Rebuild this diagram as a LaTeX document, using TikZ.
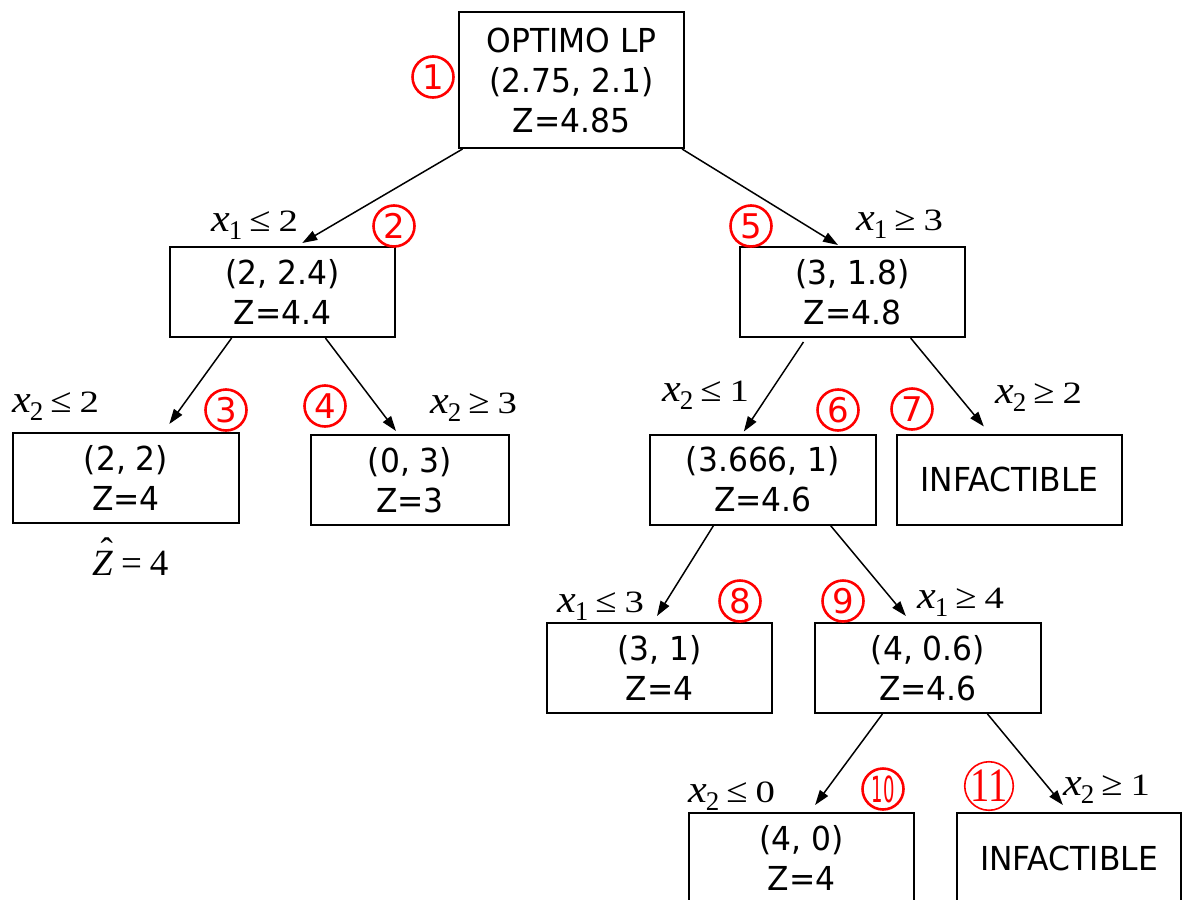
\documentclass[tikz,border=0pt]{standalone}
\usepackage{fontspec}
\setmainfont{DejaVu Sans}[FakeStretch=0.95]
\newfontfamily\tnr{Liberation Serif}
\newfontfamily\circfont{DejaVu Sans}
\usetikzlibrary{arrows.meta,calc}
\newcommand{\cnd}[3]{{\fontsize{39}{39}\selectfont\scalebox{1.08}[1]{\textit{x}}}\kern-1pt\raisebox{-8pt}{\fontsize{27}{27}\selectfont #1}\hspace{7pt}\scalebox{1.25}[1.12]{#2}\hspace{8pt}\scalebox{1.25}[1]{#3}}
\tikzset{
  box/.style={draw, line width=2pt, minimum width=225pt, minimum height=90pt, inner sep=0pt, align=center, font=\fontsize{33}{40}\selectfont},
  arr/.style={line width=1.5pt, -{Triangle[length=15pt,width=10pt]}},
  num/.style={circle, draw=red, line width=2.6pt, text=red, minimum size=41pt, inner sep=0pt, font=\circfont\fontsize{34}{34}\selectfont},
  cond/.style={anchor=base west, inner sep=0pt, font=\tnr\fontsize{31}{31}\selectfont}
}
\begin{document}
\begin{tikzpicture}[x=1pt,y=-1pt]
\fill[white] (0,0) rectangle (1182,899);
\useasboundingbox (0,0) rectangle (1182,899);
% boxes
\node[box, minimum height=136pt] (n1) at (571.5,80) {OPTIMO LP\\(2.75, 2.1)\\Z=4.85};
\node[box] (n2) at (282.5,292) {(2, 2.4)\\Z=4.4};
\node[box, minimum width=226pt] (n3) at (126,478) {(2, 2)\\Z=4};
\node[box, minimum width=198pt] (n4) at (410,480) {(0, 3)\\Z=3};
\node[box] (n5) at (852.5,292) {(3, 1.8)\\Z=4.8};
\node[box, minimum width=226pt] (n6) at (763,479.5) {(3.666, 1)\\Z=4.6};
\node[box] (n7) at (1009.5,479.5) {INFACTIBLE};
\node[box] (n8) at (659.5,668) {(3, 1)\\Z=4};
\node[box, minimum width=226pt] (n9) at (928,668) {(4, 0.6)\\Z=4.6};
\node[box] (n10) at (801.5,858) {(4, 0)\\Z=4};
\node[box, minimum width=224pt] (n11) at (1069,858) {INFACTIBLE};
% connectors
\draw[arr] ($(n1.south west)!0.02!(n1.south east)$) -- ($(n2.north west)!0.587!(n2.north east)+(0,-3)$);
\draw[arr] ($(n1.south west)!0.987!(n1.south east)$) -- ($(n5.north west)!0.436!(n5.north east)+(0,-1)$);
\draw[arr] ($(n2.south west)!0.276!(n2.south east)$) -- ($(n3.north west)!0.69!(n3.north east)+(0,-8)$);
\draw[arr] ($(n2.south west)!0.689!(n2.south east)$) -- ($(n4.north west)!0.43!(n4.north east)+(0,-3)$);
\draw[arr] ($(n5.south west)!0.284!(n5.south east)+(0,4)$) -- ($(n6.north west)!0.416!(n6.north east)+(0,-2)$);
\draw[arr] ($(n5.south west)!0.756!(n5.south east)$) -- ($(n7.north west)!0.387!(n7.north east)+(0,-7)$);
\draw[arr] ($(n6.south west)!0.283!(n6.south east)$) -- ($(n8.north west)!0.489!(n8.north east)+(0,-6)$);
\draw[arr] ($(n6.south west)!0.796!(n6.south east)$) -- ($(n9.north west)!0.403!(n9.north east)+(0,-6)$);
\draw[arr] ($(n9.south west)!0.30!(n9.south east)$) -- ($(n10.north west)!0.56!(n10.north east)+(0,-7)$);
\draw[arr] ($(n9.south west)!0.761!(n9.south east)$) -- ($(n11.north west)!0.473!(n11.north east)+(0,-7)$);
% condition labels
\node[cond] (c2) at (211,231) {\cnd{1}{≤}{2}};
\node[cond] (c5) at (856,230) {\cnd{1}{≥}{3}};
\node[cond] (c3) at (12,412) {\cnd{2}{≤}{2}};
\node[cond] (c4) at (430,413) {\cnd{2}{≥}{3}};
\node[cond] (c6) at (662,401) {\cnd{2}{≤}{1}};
\node[cond] (c7) at (995,403) {\cnd{2}{≥}{2}};
\node[cond] (c8) at (557,612) {\cnd{1}{≤}{3}};
\node[cond] (c9) at (917,608) {\cnd{1}{≥}{4}};
\node[cond] (c10) at (688,802) {\cnd{2}{≤}{0}};
\node[cond] (c11) at (1063,795) {\cnd{2}{≥}{1}};
\node[anchor=base west, inner sep=0pt, font=\tnr\fontsize{37}{37}\selectfont] (zh) at (92,575) {\rlap{\kern0.23em\raisebox{0.32em}{ˆ}}\textit{Z}\hspace{8pt}=\hspace{8pt}4};
% circled numbers
\node[num] (k1) at (433,77) {1};
\node[num] (k2) at (394,226) {2};
\node[num] (k3) at (226,410) {3};
\node[num] (k4) at (325,406) {4};
\node[num] (k5) at (751,226) {5};
\node[num] (k6) at (838,410) {6};
\node[num] (k7) at (912,409) {7};
\node[num] (k8) at (740,601) {8};
\node[num] (k9) at (843,601) {9};
\node[num, font=\circfont\fontsize{36}{36}\selectfont] (k10) at (883,789) {\scalebox{0.5}[1]{10}};
\node[num, line width=1.6pt, minimum size=48pt, font=\tnr\fontsize{48}{48}\selectfont] (k11) at (989,786) {\scalebox{0.8}[1]{11}};
\end{tikzpicture}
\end{document}
